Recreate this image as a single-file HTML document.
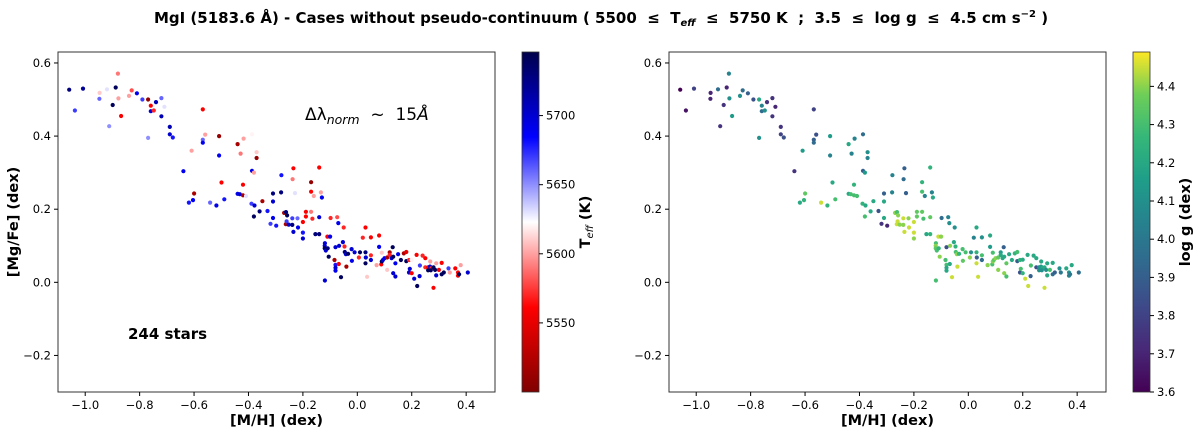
<!DOCTYPE html>
<html><head><meta charset="utf-8">
<style>
html,body{margin:0;padding:0;background:#fff;}
svg{display:block;font-family:"DejaVu Sans","Liberation Sans",sans-serif;}
</style></head>
<body>
<svg id="fig" width="1200" height="435" viewBox="0 0 1200 435" xmlns="http://www.w3.org/2000/svg">
<defs>
<linearGradient id="gTeff" x1="0" y1="1" x2="0" y2="0">
<stop offset="0" stop-color="#800000"/><stop offset="0.25" stop-color="#ff0000"/><stop offset="0.5" stop-color="#ffffff"/><stop offset="0.75" stop-color="#0000ff"/><stop offset="1" stop-color="#00004c"/>
</linearGradient>
<linearGradient id="gLogg" x1="0" y1="1" x2="0" y2="0">
<stop offset="0" stop-color="#440154"/><stop offset="0.125" stop-color="#482878"/><stop offset="0.25" stop-color="#3e4989"/><stop offset="0.375" stop-color="#31688e"/><stop offset="0.5" stop-color="#26828e"/><stop offset="0.625" stop-color="#1f9e89"/><stop offset="0.75" stop-color="#35b779"/><stop offset="0.875" stop-color="#6ece58"/><stop offset="1" stop-color="#fde725"/>
</linearGradient>
</defs>
<text x="601" y="23" text-anchor="middle" font-size="15" font-weight="bold" xml:space="preserve">MgI (5183.6 Å) - Cases without pseudo-continuum ( 5500  ≤  T<tspan font-size="10" dy="3" font-style="italic">eff</tspan><tspan dy="-3">  ≤  5750 K  ;  3.5  ≤  log g  ≤  4.5 cm s</tspan><tspan font-size="10" dy="-6">−2</tspan><tspan dy="6"> )</tspan></text>
<g id="left"></g>
<g id="right"></g>
</svg>
<script>
const mh=[-1.059,-1.008,-1.038,-0.947,-0.948,-0.92,-0.888,-0.899,-0.912,-0.88,-0.878,-0.868,-0.829,-0.839,-0.81,-0.79,-0.769,-0.759,-0.759,-0.748,-0.74,-0.72,-0.72,-0.709,-0.769,-0.689,-0.689,-0.678,-0.639,-0.609,-0.568,-0.568,-0.568,-0.559,-0.508,-0.508,-0.6,-0.619,-0.604,-0.541,-0.518,-0.499,-0.489,-0.44,-0.418,-0.429,-0.387,-0.37,-0.37,-0.387,-0.38,-0.42,-0.44,-0.432,-0.42,-0.409,-0.389,-0.378,-0.38,-0.359,-0.349,-0.33,-0.319,-0.31,-0.31,-0.31,-0.298,-0.279,-0.28,-0.269,-0.263,-0.262,-0.258,-0.26,-0.252,-0.239,-0.239,-0.235,-0.238,-0.235,-0.229,-0.22,-0.218,-0.2,-0.2,-0.2,-0.189,-0.189,-0.14,-0.17,-0.17,-0.16,-0.17,-0.165,-0.154,-0.14,-0.14,-0.134,-0.13,-0.119,-0.119,-0.12,-0.12,-0.116,-0.11,-0.109,-0.105,-0.1,-0.098,-0.08,-0.084,-0.08,-0.08,-0.08,-0.074,-0.07,-0.067,-0.068,-0.06,-0.053,-0.05,-0.047,-0.046,-0.042,-0.04,-0.034,-0.021,-0.02,-0.01,0.006,0.01,0.02,0.03,0.03,0.031,0.03,0.036,0.05,0.05,0.05,0.071,0.08,0.08,0.088,0.09,0.09,0.094,0.1,0.11,0.11,0.119,0.119,0.126,0.13,0.132,0.132,0.14,0.14,0.15,0.16,0.171,0.18,0.18,0.19,0.19,0.193,0.2,0.2,0.209,0.218,0.22,0.229,0.23,0.24,0.25,0.25,0.26,0.267,0.273,0.28,0.26,0.27,0.268,0.28,0.286,0.29,0.29,0.3,0.31,0.31,0.318,0.335,0.34,0.36,0.37,0.37,0.38,0.374,0.406];
const mgfe=[0.527,0.53,0.47,0.518,0.502,0.528,0.533,0.485,0.427,0.571,0.503,0.455,0.525,0.51,0.517,0.5,0.5,0.483,0.468,0.47,0.493,0.504,0.454,0.48,0.395,0.425,0.405,0.396,0.304,0.36,0.473,0.39,0.382,0.404,0.4,0.347,0.243,0.218,0.225,0.218,0.21,0.273,0.227,0.378,0.393,0.352,0.405,0.34,0.356,0.305,0.3,0.267,0.242,0.241,0.238,0.236,0.215,0.21,0.18,0.194,0.222,0.195,0.16,0.176,0.221,0.243,0.155,0.293,0.246,0.19,0.159,0.192,0.183,0.167,0.158,0.175,0.157,0.138,0.282,0.312,0.244,0.175,0.15,0.165,0.136,0.12,0.193,0.18,0.314,0.274,0.248,0.236,0.193,0.174,0.132,0.132,0.178,0.246,0.232,0.005,0.107,0.1,0.093,0.087,0.125,0.093,0.07,0.125,0.176,0.096,0.061,0.048,0.04,0.032,0.178,0.162,0.1,0.05,0.014,0.11,0.15,0.098,0.083,0.077,0.043,0.078,0.091,0.059,0.082,0.068,0.082,0.122,0.15,0.082,0.068,0.052,0.015,0.123,0.074,0.061,0.047,0.128,0.097,0.049,0.081,0.057,0.061,0.066,0.034,0.068,0.082,0.075,0.066,0.096,0.07,0.025,0.016,0.052,0.077,0.061,0.079,0.083,0.058,0.027,0.061,0.037,0.025,0.062,0.01,0.075,-0.01,0.017,0.046,0.073,0.066,0.041,0.041,0.043,0.039,0.041,0.033,0.033,0.057,-0.015,0.034,0.052,0.019,0.034,0.053,0.022,0.027,0.038,0.027,0.038,0.027,0.018,0.047,0.022,0.027];
const teff=[5730,5720,5670,5610,5660,5630,5740,5740,5650,5590,5600,5560,5580,5600,5690,5670,5510,5560,5700,5570,5710,5660,5710,5630,5650,5710,5700,5680,5690,5600,5560,5660,5690,5600,5510,5690,5520,5680,5690,5660,5690,5560,5680,5520,5600,5590,5620,5510,5610,5690,5600,5560,5690,5700,5520,5630,5670,5700,5740,5730,5520,5680,5670,5690,5700,5730,5680,5680,5730,5520,5520,5730,5740,5670,5700,5670,5730,5700,5590,5560,5630,5660,5690,5560,5680,5700,5560,5560,5560,5510,5560,5600,5590,5570,5730,5730,5700,5600,5690,5700,5700,5700,5740,5700,5560,5730,5740,5690,5570,5700,5520,5680,5700,5690,5580,5690,5700,5560,5740,5700,5570,5570,5730,5700,5520,5740,5700,5690,5700,5570,5740,5570,5560,5730,5700,5740,5610,5560,5570,5700,5600,5560,5690,5560,5610,5740,5700,5690,5610,5520,5520,5570,5700,5740,5740,5700,5700,5690,5690,5740,5520,5550,5740,5700,5570,5700,5560,5620,5700,5560,5740,5700,5670,5570,5560,5570,5560,5700,5570,5740,5740,5740,5600,5560,5740,5600,5700,5560,5560,5740,5740,5670,5600,5560,5560,5560,5600,5740,5700];
const logg=[3.6,3.8,3.65,3.7,3.7,3.95,3.7,3.75,3.75,4.05,4.1,4.15,3.95,4.1,3.9,3.85,4.2,4.05,3.95,4.1,3.75,3.75,3.75,3.7,4.1,3.75,3.8,3.85,3.75,4.15,3.8,3.9,3.95,3.85,4.15,4.05,4.35,4.2,4.25,4.45,4.25,4.2,4.3,4.2,4.05,4.05,3.95,4.05,4.1,3.9,4.15,4.25,4.2,4.3,4.3,4.3,4.25,4.2,4.3,4.2,4.2,3.85,3.75,4.2,4.2,3.9,3.7,4.05,4.05,4.4,4.45,4.3,4.4,4.45,4.4,4.45,4.4,4.45,3.95,3.9,3.9,4.4,4.45,4.45,4.45,4.4,4.35,4.35,4.25,4.25,4.3,4.05,4.35,4.3,4.2,4.25,4.35,4.05,4.2,4.3,4.3,4.4,4.35,4.3,4.45,4.25,4.4,4.4,3.95,3.85,4.3,4.3,4.2,4.2,4.05,4.1,4.4,4.2,4.45,4.2,4.1,4.25,4.3,4.4,4.45,4.25,4.3,4.35,4.3,4.4,4.1,4.05,4.2,4.25,3.9,4.45,4.45,4.1,4.3,3.95,4.4,4.2,4.15,4.3,4.3,4.4,4.35,4.4,4.4,4.35,4.15,4.2,4.2,3.9,4.2,4.4,4.3,4.35,4.2,4.2,4.25,4.3,3.9,3.85,4.25,4.3,4.25,4.2,4.45,4.2,4.45,3.9,4.3,4.2,4.2,3.85,4.1,4.15,4.2,4.2,4.1,4.1,4.2,4.45,4.1,4.2,4.2,4.3,4.2,3.95,3.9,4.1,4.0,4.2,4.1,4.05,4.2,4.0,3.95];
const xTicks=[-1.0,-0.8,-0.6,-0.4,-0.2,0.0,0.2,0.4];
const yTicks=[-0.2,0.0,0.2,0.4,0.6];
const teffTicks=[5550,5600,5650,5700];
const loggTicks=[3.6,3.7,3.8,3.9,4.0,4.1,4.2,4.3,4.4];

const NS="http://www.w3.org/2000/svg";
function mk(tag,attrs,parent){const e=document.createElementNS(NS,tag);for(const k in attrs)e.setAttribute(k,attrs[k]);parent.appendChild(e);return e;}
function lerp(a,b,t){return a+(b-a)*t;}
function cmap(stops,t){t=Math.max(0,Math.min(1,t));const n=stops.length-1;const i=Math.min(n-1,Math.floor(t*n));const f=t*n-i;const a=stops[i],b=stops[i+1];return `rgb(${Math.round(lerp(a[0],b[0],f))},${Math.round(lerp(a[1],b[1],f))},${Math.round(lerp(a[2],b[2],f))})`;}
const seis=[[128,0,0],[255,0,0],[255,255,255],[0,0,255],[0,0,76]];
const viri=[[68,1,84],[72,40,120],[62,73,137],[49,104,142],[38,130,142],[31,158,137],[53,183,121],[110,206,88],[253,231,37]];

function panel(g,x0,cbx,colorVals,cmin,cmax,stops,grad,cbTicks,cbLabel,cbLabelX,cbFmt,showY,extra){
  const X0=x0,X1=x0+437,Y0=52,Y1=392;
  const xs=v=>X0+(v-(-1.1))/(0.506-(-1.1))*(X1-X0);
  const ys=v=>Y1-(v-(-0.3))/(0.63-(-0.3))*(Y1-Y0);
  mk('rect',{x:X0,y:Y0,width:X1-X0,height:Y1-Y0,fill:'#fff',stroke:'#333','stroke-width':1},g);
  xTicks.forEach(t=>{const x=xs(t);
    const l=mk('line',{x1:x,x2:x,y1:Y1,y2:Y1+4,stroke:'#000'},g);
    
    
    const tx=mk('text',{x:x,y:Y1+17,'text-anchor':'middle','font-size':11.5},g);tx.textContent=(t<0?'−':'')+Math.abs(t).toFixed(1);
    
    });
  yTicks.forEach(t=>{const y=ys(t);
    const l=mk('line',{x1:X0-4,x2:X0,y1:y,y2:y,stroke:'#000'},g);
    
    
    const tx=mk('text',{x:X0-7,y:y+4,'text-anchor':'end','font-size':11.5},g);tx.textContent=(t<0?'−':'')+Math.abs(t).toFixed(1);
    
    });
  const xl=mk('text',{x:(X0+X1)/2,y:425,'text-anchor':'middle','font-size':14.5,'font-weight':'bold'},g);xl.textContent='[M/H] (dex)';
  
  
  if(showY){const yl=mk('text',{x:0,y:0,'text-anchor':'middle','font-size':14.5,'font-weight':'bold',transform:`translate(18,${(Y0+Y1)/2}) rotate(-90)`},g);yl.textContent='[Mg/Fe] (dex)';
    
    }
  for(let i=0;i<mh.length;i++){
    const c=mk('circle',{cx:xs(mh[i]).toFixed(1),cy:ys(mgfe[i]).toFixed(1),r:2.1,fill:cmap(stops,(colorVals[i]-cmin)/(cmax-cmin))},g);
    
    
  }
  const cb=mk('rect',{x:cbx,y:Y0,width:17,height:Y1-Y0,fill:`url(#${grad})`,stroke:'#333','stroke-width':0.8},g);
  
  
  const cs=v=>Y1-(v-cmin)/(cmax-cmin)*(Y1-Y0);
  cbTicks.forEach(t=>{const y=cs(t);
    const l=mk('line',{x1:cbx+17,x2:cbx+21,y1:y,y2:y,stroke:'#000'},g);
    
    
    const tx=mk('text',{x:cbx+24,y:y+4,'font-size':11.5},g);tx.textContent=cbFmt(t);
    
    });
  const lb=mk('text',{x:0,y:0,'text-anchor':'middle','font-size':14.5,'font-weight':'bold',transform:`translate(${cbLabelX},${(Y0+Y1)/2}) rotate(-90)`},g);
  lb.innerHTML=cbLabel;
  
  
  if(extra)extra(g,xs,ys);
}
panel(document.getElementById('left'),58,522,teff,5500,5746,seis,'gTeff',teffTicks,'T<tspan font-size="10" dy="3" font-style="italic" font-weight="normal">eff</tspan><tspan dy="-3"> (K)</tspan>',590,t=>String(t),true,(g)=>{
  const a=mk('text',{x:305,y:120,'font-size':17},g);
  a.innerHTML='Δλ<tspan font-size="12.5" dy="4" font-style="italic">norm</tspan><tspan dy="-4" xml:space="preserve">  ~  15<tspan font-style="italic">Å</tspan></tspan>';
  
  
  const s=mk('text',{x:128,y:339,'font-size':15,'font-weight':'bold'},g);s.textContent='244 stars';
  
  
});
panel(document.getElementById('right'),669,1133,logg,3.6,4.49,viri,'gLogg',loggTicks,'log g (dex)',1190,t=>t.toFixed(1),false,null);
</script>
</body></html>
